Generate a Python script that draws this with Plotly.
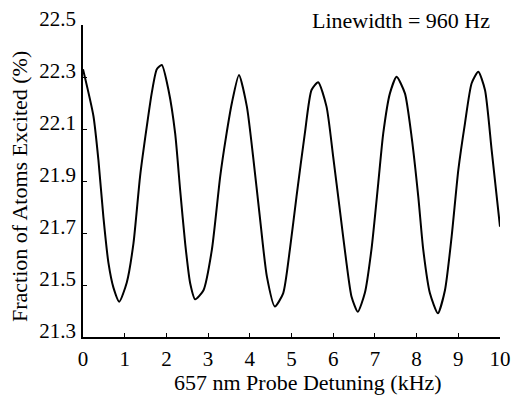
import plotly.graph_objects as go

detuning_khz = [0.00, 0.25, 0.37, 0.49, 0.61, 0.73, 0.87, 1.05, 1.21, 1.37, 1.53, 1.65, 1.77, 1.89,
                2.05, 2.21, 2.33, 2.45, 2.57, 2.69, 2.89, 3.09, 3.29, 3.43, 3.57, 3.74, 3.93, 4.08,
                4.24, 4.41, 4.60, 4.80, 4.96, 5.12, 5.32, 5.48, 5.64, 5.84, 6.00, 6.16, 6.32, 6.44,
                6.59, 6.76, 6.92, 7.08, 7.20, 7.36, 7.52, 7.72, 7.88, 8.04, 8.16, 8.32, 8.51, 8.68,
                8.84, 9.00, 9.16, 9.32, 9.48, 9.64, 9.80, 10.00]
fraction_pct = [22.33, 22.15, 21.98, 21.76, 21.585, 21.49, 21.436, 21.51, 21.66, 21.92, 22.11, 22.24, 22.33, 22.346,
                22.25, 22.083, 21.865, 21.66, 21.507, 21.445, 21.48, 21.635, 21.917, 22.07, 22.20, 22.308, 22.186, 21.993,
                21.763, 21.532, 21.417, 21.468, 21.635, 21.84, 22.083, 22.25, 22.28, 22.186, 21.993, 21.788, 21.583, 21.455,
                21.397, 21.47, 21.64, 21.891, 22.083, 22.237, 22.301, 22.237, 22.07, 21.84, 21.635, 21.468, 21.391, 21.48,
                21.686, 21.942, 22.122, 22.276, 22.32, 22.25, 22.019, 21.724]

x_ticks = [0, 1, 2, 3, 4, 5, 6, 7, 8, 9, 10]
y_ticks = [21.3, 21.5, 21.7, 21.9, 22.1, 22.3, 22.5]
y_tick_text = ["21.3", "21.5", "21.7", "21.9", "22.1", "22.3", "22.5"]

x_title = "657 nm Probe Detuning (kHz)"
y_title = "Fraction of Atoms Excited (%)"
note = "Linewidth = 960 Hz"

FONT = "Liberation Serif, Times New Roman, serif"

fig = go.Figure()
fig.add_trace(go.Scatter(
    x=detuning_khz, y=fraction_pct, mode="lines",
    line=dict(color="black", width=2, shape="spline", smoothing=0.6),
    showlegend=False, hoverinfo="skip",
))

fig.update_layout(
    template="none",
    width=512, height=396,
    margin=dict(l=83, r=12, t=25, b=59, pad=0),
    paper_bgcolor="white", plot_bgcolor="white",
    font=dict(family=FONT, size=20, color="black"),
    showlegend=False,
)

fig.update_xaxes(
    range=[0, 10], tickvals=x_ticks, ticktext=[str(v) for v in x_ticks],
    automargin=False,
    showgrid=False, zeroline=False, showline=True, linecolor="black", linewidth=1.5,
    ticks="inside", ticklen=4, tickwidth=1, tickcolor="black",
    tickfont=dict(family=FONT, size=21, color="black"),
    ticklabelstandoff=2,
)
fig.update_yaxes(
    range=[21.3, 22.5], tickvals=y_ticks, ticktext=y_tick_text,
    automargin=False,
    showgrid=False, zeroline=False, showline=True, linecolor="black", linewidth=1.5,
    ticks="inside", ticklen=4, tickwidth=1, tickcolor="black",
    tickfont=dict(family=FONT, size=21, color="black"),
    ticklabelshift=-6, ticklabelstandoff=1,
)

fig.add_annotation(
    text=x_title, xref="paper", yref="paper", x=(308 - 83) / 417, y=-(382 - 337) / 312,
    xanchor="center", yanchor="middle", showarrow=False,
    font=dict(family=FONT, size=22, color="black"),
)
fig.add_annotation(
    text=y_title, xref="paper", yref="paper", x=-(83 - 20) / 417, y=(337 - 187) / 312,
    xanchor="center", yanchor="middle", textangle=-90, showarrow=False,
    font=dict(family=FONT, size=22, color="black"),
)
fig.add_annotation(
    text=note, xref="paper", yref="paper", x=(492 - 83) / 417, y=1 + (25 - 20) / 312,
    xanchor="right", yanchor="middle", showarrow=False,
    font=dict(family=FONT, size=22, color="black"),
)

fig.write_html("out.html")
